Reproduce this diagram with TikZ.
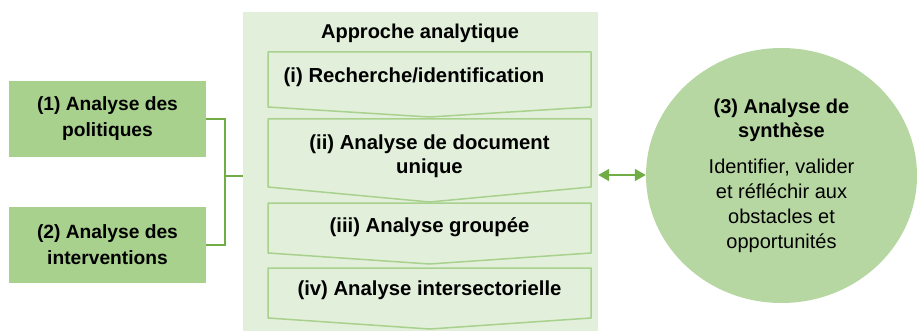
\documentclass[tikz,border=0pt]{standalone}
\usepackage{fontspec}
\setmainfont{Liberation Sans}
\usetikzlibrary{positioning,arrows.meta,shapes.geometric}

\definecolor{boxgreen}{RGB}{169,209,142}
\definecolor{panelgreen}{RGB}{226,239,218}
\definecolor{circgreen}{RGB}{183,215,162}
\definecolor{linkgreen}{RGB}{112,173,71}

\tikzset{
  sidebox/.style={fill=boxgreen,minimum width=197,minimum height=76,inner sep=0,
    align=center,font=\fontsize{19.2}{26}\selectfont\bfseries},
  panel/.style={fill=panelgreen,minimum width=355,minimum height=319,inner sep=0},
  chevron/.style={draw=boxgreen,fill=panelgreen,line width=1.5pt,line join=round},
  steptext/.style={align=center,inner sep=0,font=\fontsize{20.3}{24}\selectfont\bfseries},
  synth/.style={ellipse,fill=circgreen,minimum width=271,minimum height=255,inner sep=0,
    align=center,font=\fontsize{20}{24.8}\selectfont},
  link/.style={draw=linkgreen,line width=1.3pt},
}

\begin{document}
\begin{tikzpicture}[x=1pt,y=-1pt]
\useasboundingbox (0,0) rectangle (917,331);

% left hand inputs
\node[sidebox] (pol) at (107.5,119) {(1) Analyse des\\politiques};
\node[sidebox] (int) at (107.5,245) {(2) Analyse des\\interventions};

% analytic approach panel with its four steps
\node[panel] (panel) at (420.5,171.5) {};
\node[steptext,font=\fontsize{20}{24}\selectfont\bfseries,anchor=base] (title) at (420,39) {Approche analytique};
\foreach \top/\side/\tip in {52/107/117, 119/187/202, 203/253/264, 268/318/329}
  \draw[chevron] (268,\top) -- (591,\top) -- (591,\side) -- (429.5,\tip) -- (268,\side) -- cycle;
\node[steptext] (s1) at (414,77) {(i) Recherche/identification};
\node[steptext] (s2) at (429.5,156) {(ii) Analyse de document\\unique};
\node[steptext] (s3) at (429.5,227) {(iii) Analyse groupée};
\node[steptext] (s4) at (429.5,290) {(iv) Analyse intersectorielle};

% synthesis
\node[synth] (syn) at (781.5,175.5) {{\bfseries (3) Analyse de}\\{\bfseries synthèse}\\[11pt]
  Identifier, valider\\et réfléchir aux\\obstacles et\\opportunités};

% connectors
\coordinate (jn) at (225,176);
\draw[link] (pol.east) -| (jn) |- (int.east);
\draw[link] (jn) -- (jn -| panel.west);
\draw[link,line width=1.8pt,{Triangle[length=11pt,width=12pt]}-{Triangle[length=11pt,width=12pt]}]
  (panel.east |- 0,175) -- (syn.west |- 0,175);
\end{tikzpicture}
\end{document}
